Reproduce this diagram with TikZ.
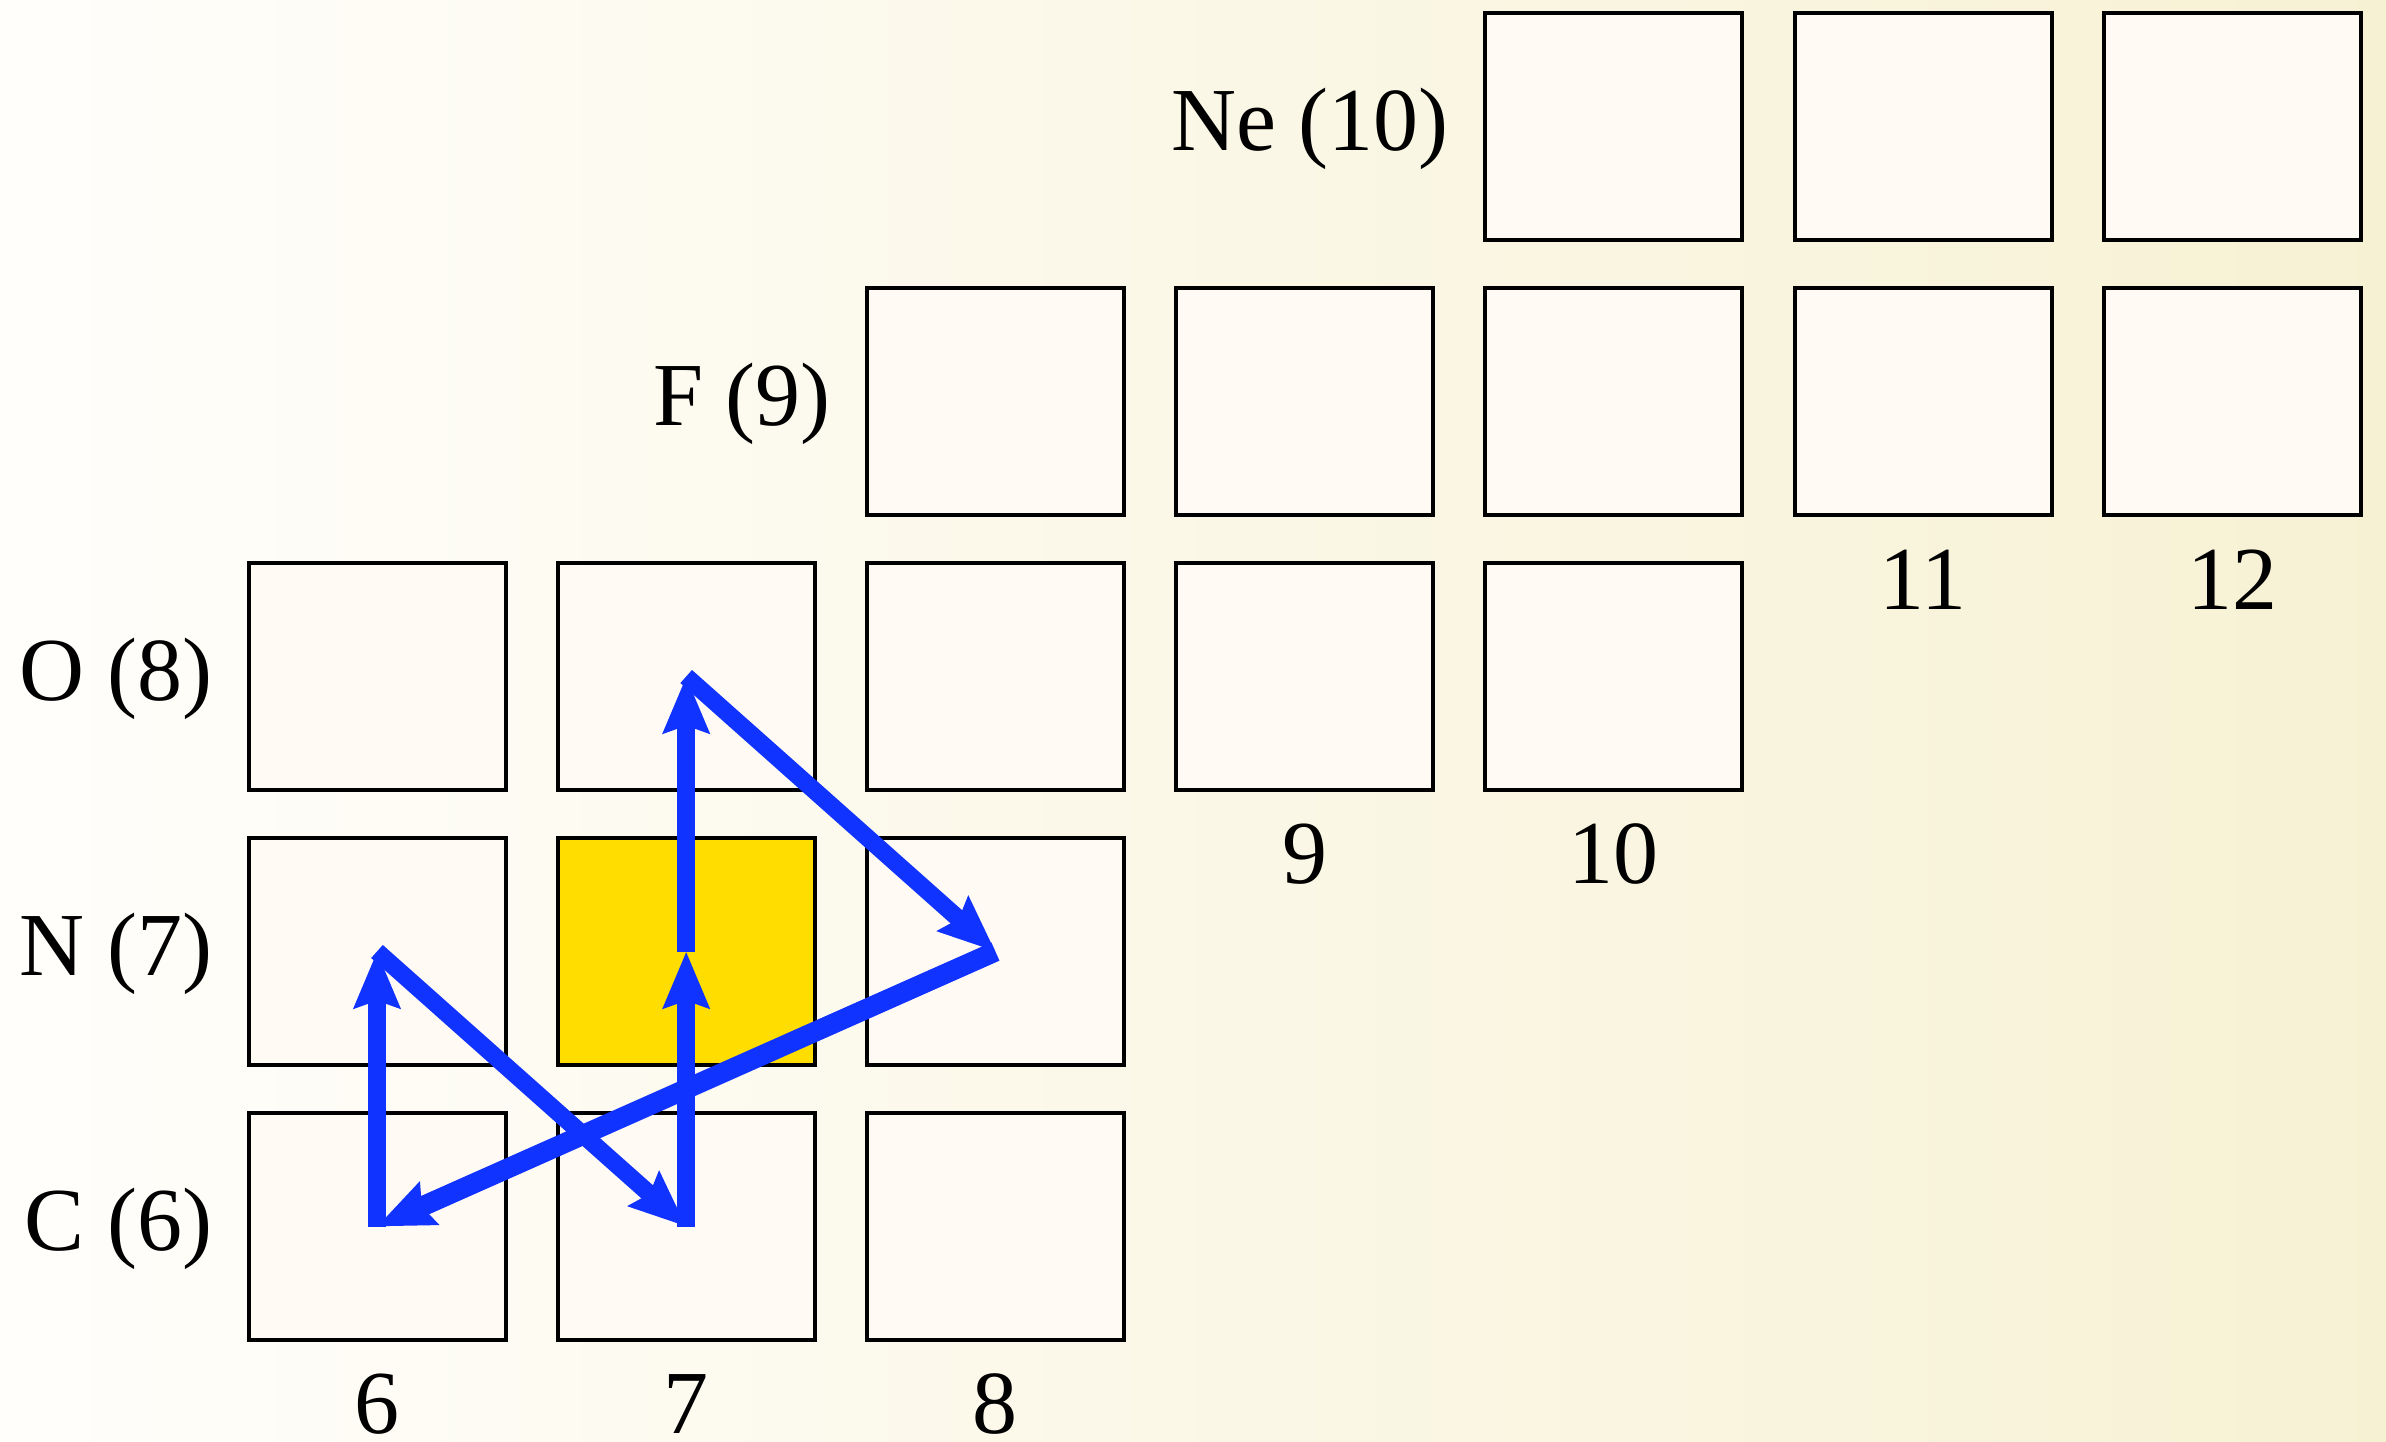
\documentclass[tikz,border=0pt]{standalone}
\usepackage{fontspec}
\setmainfont{Liberation Serif}
\usetikzlibrary{arrows.meta}
\definecolor{bgL}{RGB}{255,254,251}
\definecolor{bgR}{RGB}{247,241,212}
\definecolor{boxfill}{RGB}{255,251,244}
\definecolor{ylw}{RGB}{255,221,0}
\definecolor{arrowblue}{RGB}{17,51,255}
\begin{document}
\begin{tikzpicture}[x=1pt,y=-1pt,
  cell/.style={rectangle,draw=black,line width=4pt,fill=boxfill,minimum width=257pt,minimum height=227pt,inner sep=0pt},
  rowlbl/.style={anchor=base east,inner sep=0pt,font=\fontsize{90}{100}\selectfont},
  collbl/.style={anchor=base,inner sep=0pt,font=\fontsize{90}{100}\selectfont},
  jump/.style={draw=arrowblue,line width=17.5pt,-{Stealth[length=56pt,width=45pt,inset=7pt]}}]
\shade[left color=bgL,right color=bgR] (0,0) rectangle (2386,1441);
\useasboundingbox (0,0) rectangle (2386,1441);
% cells
\foreach \k in {10,11,12} \node[cell] (Ne\k) at ({377+309.2*(\k-6)},126.5) {};
\foreach \k in {8,9,10,11,12} \node[cell] (F\k) at ({377+309.2*(\k-6)},401.5) {};
\foreach \k in {6,7,8,9,10} \node[cell] (O\k) at ({377+309.2*(\k-6)},676.5) {};
\node[cell] (N6) at (377,951.5) {};
\node[cell,fill=ylw] (N7) at (686.2,951.5) {};
\node[cell] (N8) at (995.4,951.5) {};
\foreach \k in {6,7,8} \node[cell] (C\k) at ({377+309.2*(\k-6)},1226.5) {};
% row labels
\node[rowlbl] (lNe) at (1449,150.5) {Ne (10)};
\node[rowlbl] (lF) at (831,425.5) {F (9)};
\node[rowlbl] (lO) at (212.5,700.5) {O (8)};
\node[rowlbl] (lN) at (212.5,975.5) {N (7)};
\node[rowlbl] (lC) at (212.5,1250.5) {C (6)};
% column labels
\foreach \k in {6,7,8} \node[collbl] (n\k) at ({377+309.2*(\k-6)},1433) {\k};
\foreach \k in {9,10} \node[collbl] (n\k) at ({377+309.2*(\k-6)},883) {\k};
\foreach \k in {11,12} \node[collbl] (n\k) at ({377+309.2*(\k-6)},609) {\k};
% arrows
\draw[jump] (C6.center) -- (N6.center);
\draw[jump] (N6.center) -- (C7.center);
\draw[jump] (C7.center) -- (N7.center);
\draw[jump] (N7.center) -- (O7.center);
\draw[jump] (O7.center) -- (N8.center);
\draw[jump,line width=20pt] (N8.center) -- (C6.center);
\end{tikzpicture}
\end{document}
